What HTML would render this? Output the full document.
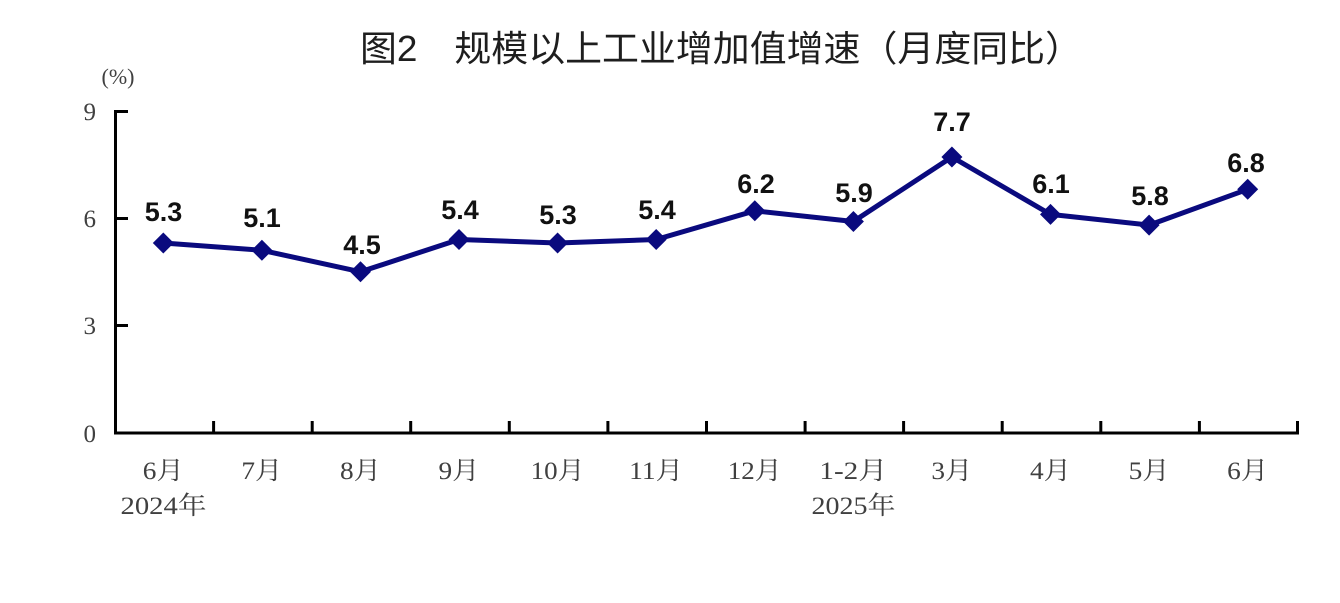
<!DOCTYPE html>
<html>
<head>
<meta charset="utf-8">
<style>
  html, body { margin:0; padding:0; background:#fff; }
  svg { display:block; }
  .title { font-family: "Liberation Sans", "Noto Sans CJK SC", sans-serif; font-size:36px; fill:#1e1e1e; }
  .ytick { font-family: "Liberation Serif", "Noto Serif CJK SC", serif; font-size:25px; fill:#404040; }
  .xtick { font-family: "Liberation Serif", "Noto Serif CJK SC", serif; font-size:25px; fill:#404040; }
  .unit { font-family: "Liberation Serif", "Noto Serif CJK SC", serif; font-size:22px; fill:#404040; }
  .dl { font-family: "Liberation Sans", Arial, sans-serif; font-size:27px; font-weight:bold; fill:#111; }
</style>
</head>
<body>
<svg width="1340" height="603" viewBox="0 0 1340 603" xmlns="http://www.w3.org/2000/svg">
  <rect width="1340" height="603" fill="#fff"/>
  <!-- Title -->
  <text class="title" x="360" y="61" textLength="722" lengthAdjust="spacingAndGlyphs">图2　规模以上工业增加值增速（月度同比）</text>

  <!-- unit -->
  <text class="unit" x="118" y="84" text-anchor="middle">(%)</text>

  <!-- Y axis -->
  <line x1="115.5" y1="110" x2="115.5" y2="434.5" stroke="#000" stroke-width="3"/>
  <line x1="114" y1="111.5" x2="128" y2="111.5" stroke="#000" stroke-width="3"/>
  <line x1="114" y1="218.5" x2="128" y2="218.5" stroke="#000" stroke-width="3"/>
  <line x1="114" y1="325.5" x2="128" y2="325.5" stroke="#000" stroke-width="3"/>

  <text class="ytick" x="96" y="120" text-anchor="end">9</text>
  <text class="ytick" x="96" y="227" text-anchor="end">6</text>
  <text class="ytick" x="96" y="334" text-anchor="end">3</text>
  <text class="ytick" x="96" y="442" text-anchor="end">0</text>

  <!-- X axis -->
  <line x1="114" y1="433" x2="1299" y2="433" stroke="#000" stroke-width="3"/>
  <g stroke="#000" stroke-width="3">
    <line x1="213.6" y1="421" x2="213.6" y2="433"/>
    <line x1="312.2" y1="421" x2="312.2" y2="433"/>
    <line x1="410.7" y1="421" x2="410.7" y2="433"/>
    <line x1="509.3" y1="421" x2="509.3" y2="433"/>
    <line x1="607.9" y1="421" x2="607.9" y2="433"/>
    <line x1="706.5" y1="421" x2="706.5" y2="433"/>
    <line x1="805.1" y1="421" x2="805.1" y2="433"/>
    <line x1="903.6" y1="421" x2="903.6" y2="433"/>
    <line x1="1002.2" y1="421" x2="1002.2" y2="433"/>
    <line x1="1100.8" y1="421" x2="1100.8" y2="433"/>
    <line x1="1199.4" y1="421" x2="1199.4" y2="433"/>
    <line x1="1297.5" y1="421" x2="1297.5" y2="433"/>
  </g>

  <!-- X labels -->
  <g class="xtick" text-anchor="middle">
    <text x="163.3" y="479" textLength="41" lengthAdjust="spacingAndGlyphs">6月</text>
    <text x="261.9" y="479" textLength="41" lengthAdjust="spacingAndGlyphs">7月</text>
    <text x="360.5" y="479" textLength="41" lengthAdjust="spacingAndGlyphs">8月</text>
    <text x="459.0" y="479" textLength="41" lengthAdjust="spacingAndGlyphs">9月</text>
    <text x="557.6" y="479" textLength="54" lengthAdjust="spacingAndGlyphs">10月</text>
    <text x="656.2" y="479" textLength="54" lengthAdjust="spacingAndGlyphs">11月</text>
    <text x="754.8" y="479" textLength="54" lengthAdjust="spacingAndGlyphs">12月</text>
    <text x="853.4" y="479" textLength="68" lengthAdjust="spacingAndGlyphs">1-2月</text>
    <text x="951.9" y="479" textLength="41" lengthAdjust="spacingAndGlyphs">3月</text>
    <text x="1050.5" y="479" textLength="41" lengthAdjust="spacingAndGlyphs">4月</text>
    <text x="1149.1" y="479" textLength="41" lengthAdjust="spacingAndGlyphs">5月</text>
    <text x="1247.7" y="479" textLength="41" lengthAdjust="spacingAndGlyphs">6月</text>
    <text x="163.5" y="514" textLength="86" lengthAdjust="spacingAndGlyphs">2024年</text>
    <text x="853.5" y="514" textLength="84" lengthAdjust="spacingAndGlyphs">2025年</text>
  </g>

  <!-- Series line -->
  <polyline fill="none" stroke="#0a0a7e" stroke-width="5" stroke-linejoin="round"
    points="163.3,243 261.9,250.3 360.5,271.8 459.0,239.5 557.6,243 656.2,239.5 754.8,210.8 853.4,221.5 951.9,157 1050.5,214.4 1149.1,225.1 1247.7,189.3"/>

  <!-- Markers -->
  <g fill="#0a0a7e">
    <polygon points="163.3,232.5 173.8,243 163.3,253.5 152.8,243"/>
    <polygon points="261.9,239.8 272.4,250.3 261.9,260.8 251.4,250.3"/>
    <polygon points="360.5,261.3 371,271.8 360.5,282.3 350,271.8"/>
    <polygon points="459.0,229 469.5,239.5 459.0,250 448.5,239.5"/>
    <polygon points="557.6,232.5 568.1,243 557.6,253.5 547.1,243"/>
    <polygon points="656.2,229 666.7,239.5 656.2,250 645.7,239.5"/>
    <polygon points="754.8,200.3 765.3,210.8 754.8,221.3 744.3,210.8"/>
    <polygon points="853.4,211 863.9,221.5 853.4,232 842.9,221.5"/>
    <polygon points="951.9,146.5 962.4,157 951.9,167.5 941.4,157"/>
    <polygon points="1050.5,203.9 1061,214.4 1050.5,224.9 1040,214.4"/>
    <polygon points="1149.1,214.6 1159.6,225.1 1149.1,235.6 1138.6,225.1"/>
    <polygon points="1247.7,178.8 1258.2,189.3 1247.7,199.8 1237.2,189.3"/>
  </g>

  <!-- Data labels -->
  <g class="dl" text-anchor="middle">
    <text x="163.5" y="221">5.3</text>
    <text x="262" y="227">5.1</text>
    <text x="362" y="254">4.5</text>
    <text x="460" y="219">5.4</text>
    <text x="558" y="224">5.3</text>
    <text x="657" y="219">5.4</text>
    <text x="756" y="193">6.2</text>
    <text x="854" y="202">5.9</text>
    <text x="952" y="131">7.7</text>
    <text x="1051" y="193">6.1</text>
    <text x="1150" y="205">5.8</text>
    <text x="1246" y="172">6.8</text>
  </g>
</svg>
</body>
</html>
